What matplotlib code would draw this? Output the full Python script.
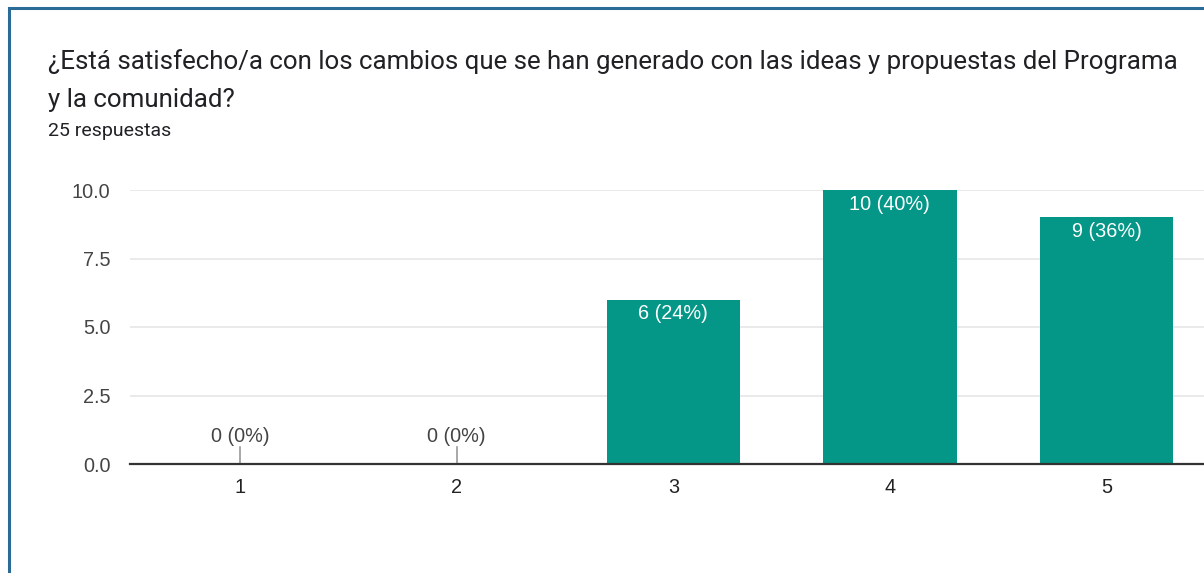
import matplotlib
matplotlib.use("Agg")
import matplotlib.pyplot as plt
from matplotlib.patches import Rectangle

categories = ["1", "2", "3", "4", "5"]
counts = [0, 0, 6, 10, 9]
percents = [0, 0, 24, 40, 36]
yticks = [0.0, 2.5, 5.0, 7.5, 10.0]
title_line1 = "¿Está satisfecho/a con los cambios que se han generado con las ideas y propuestas del Programa"
title_line2 = "y la comunidad?"
subtitle = "25 respuestas"

W, H = 1204, 573
fig = plt.figure(figsize=(W / 100, H / 100), dpi=100)
fig.patch.set_facecolor("white")

# outer frame
fig.add_artist(Rectangle((9 / W, -0.1), 1.2, (H - 8) / H + 0.1, transform=fig.transFigure,
                         fill=False, edgecolor="#2b6b98", linewidth=2.2))

fig.text(48 / W, 1 - 62 / H, title_line1, fontsize=18.6, family="Roboto", color="#202124", va="center")
fig.text(48 / W, 1 - 100 / H, title_line2, fontsize=18.6, family="Roboto", color="#202124", va="center")
fig.text(48 / W, 1 - 131 / H, subtitle, fontsize=14, family="Roboto", color="#202124", va="center")

FS = 14.3
ax = fig.add_axes([130 / W, 1 - 464 / H, 1 - 130 / W, (464 - 190) / H])
x = list(range(1, len(categories) + 1))
bars = ax.bar(x, counts, width=0.615, color="#049686", zorder=2)
ax.set_xlim(0.492, 5.45)
ax.set_ylim(0, 10)
ax.set_yticks(yticks)
ax.set_yticklabels([f"{v:.1f}" for v in yticks], fontsize=FS, family="Liberation Sans", color="#444444")
ax.set_xticks(x)
ax.set_xticklabels(categories, fontsize=FS, family="Liberation Sans", color="#222222")
ax.tick_params(axis="both", length=0)
ax.tick_params(axis="y", pad=14)
ax.tick_params(axis="x", pad=10)
for s in ["top", "right", "left"]:
    ax.spines[s].set_visible(False)
ax.spines["bottom"].set_color("#333333")
ax.spines["bottom"].set_linewidth(1.6)
ax.spines["bottom"].set_zorder(3)
ax.grid(axis="y", color="#e6e6e6", linewidth=1.2, zorder=0)
ax.set_axisbelow(True)

for xi, c, p in zip(x, counts, percents):
    label = f"{c} ({p}%)"
    if c == 0:
        ax.plot([xi, xi], [0, 0.62], color="#999999", linewidth=1.2, zorder=3)
        ax.annotate(label, (xi, 0), xytext=(0, 27), textcoords="offset pixels",
                    ha="center", va="center", fontsize=FS, family="Liberation Sans", color="#444444")
    else:
        ax.annotate(label, (xi, c), xytext=(0, -14), textcoords="offset pixels",
                    ha="center", va="center", fontsize=FS, family="Liberation Sans", color="white")

fig.savefig("out.png", dpi=100)
